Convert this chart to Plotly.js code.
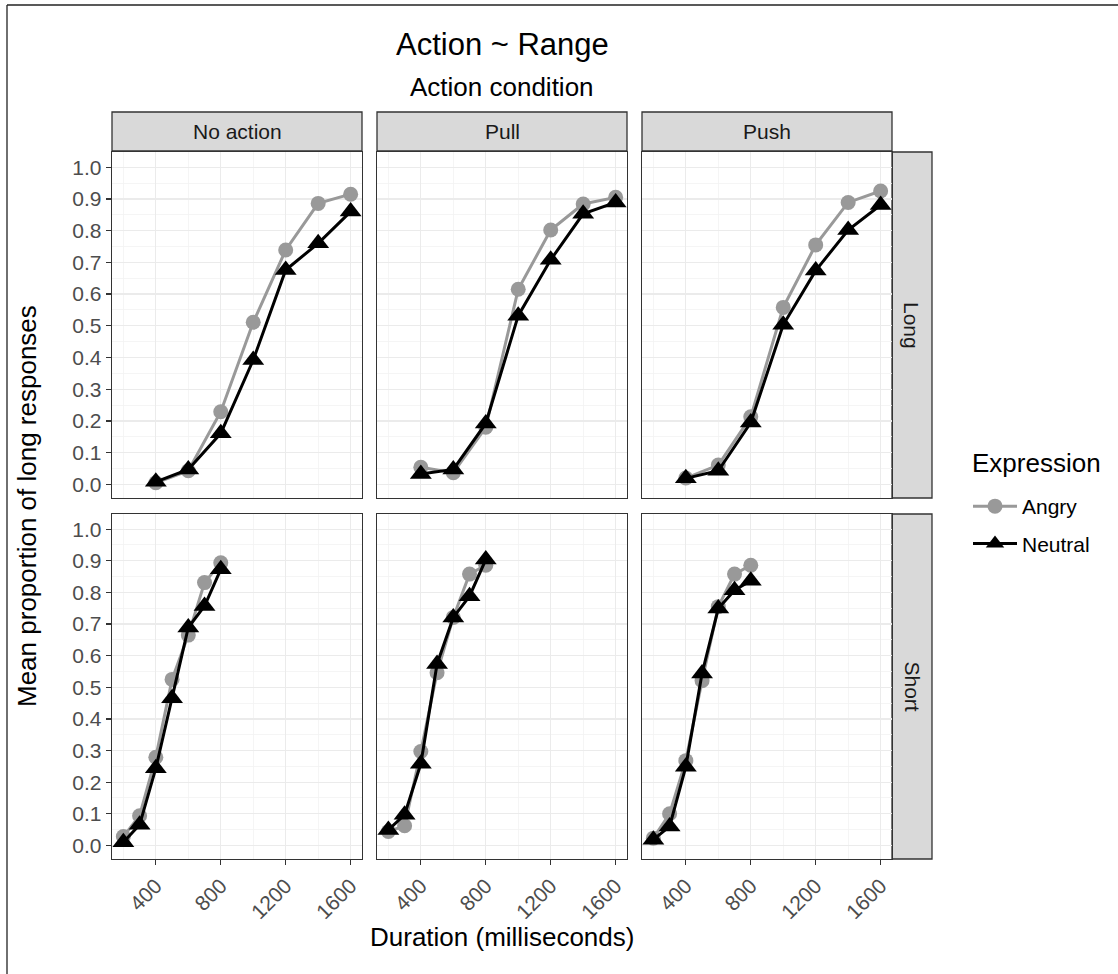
<!DOCTYPE html>
<html>
<head>
<meta charset="utf-8">
<script src="https://cdn.plot.ly/plotly-3.0.1.min.js"></script>
<style>html,body{margin:0;padding:0;background:#fff;}#chart{width:1118px;height:974px;}</style>
</head>
<body>
<div id="chart"></div>
<script>
// ---- data ----
var actions = ["No action", "Pull", "Push"];
var ranges = ["Long", "Short"];
var durationsLong = [400, 600, 800, 1000, 1200, 1400, 1600];
var durationsShort = [200, 300, 400, 500, 600, 700, 800];
var xTickVals = [400, 800, 1200, 1600];
var yTickVals = [0, 0.1, 0.2, 0.3, 0.4, 0.5, 0.6, 0.7, 0.8, 0.9, 1.0];
var yTickText = ["0.0", "0.1", "0.2", "0.3", "0.4", "0.5", "0.6", "0.7", "0.8", "0.9", "1.0"];

var angryLongNoAction   = [0.005, 0.043, 0.229, 0.511, 0.739, 0.886, 0.915];
var neutralLongNoAction = [0.008, 0.047, 0.161, 0.392, 0.676, 0.760, 0.860];
var angryLongPull       = [0.054, 0.037, 0.180, 0.615, 0.802, 0.884, 0.905];
var neutralLongPull     = [0.033, 0.047, 0.192, 0.532, 0.708, 0.853, 0.889];
var angryLongPush       = [0.020, 0.061, 0.213, 0.558, 0.755, 0.889, 0.925];
var neutralLongPush     = [0.019, 0.043, 0.195, 0.503, 0.674, 0.802, 0.881];

var angryShortNoAction   = [0.028, 0.094, 0.279, 0.525, 0.665, 0.831, 0.894];
var neutralShortNoAction = [0.010, 0.065, 0.244, 0.465, 0.689, 0.757, 0.873];
var angryShortPull       = [0.044, 0.062, 0.297, 0.546, 0.721, 0.858, 0.886];
var neutralShortPull     = [0.049, 0.097, 0.258, 0.574, 0.721, 0.788, 0.904];
var angryShortPush       = [0.023, 0.100, 0.268, 0.521, 0.755, 0.858, 0.886];
var neutralShortPush     = [0.018, 0.060, 0.249, 0.544, 0.749, 0.807, 0.837];

var panels = [
  {x: durationsLong,  a: angryLongNoAction,  n: neutralLongNoAction},
  {x: durationsLong,  a: angryLongPull,      n: neutralLongPull},
  {x: durationsLong,  a: angryLongPush,      n: neutralLongPush},
  {x: durationsShort, a: angryShortNoAction, n: neutralShortNoAction},
  {x: durationsShort, a: angryShortPull,     n: neutralShortPull},
  {x: durationsShort, a: angryShortPush,     n: neutralShortPush}
];

// ---- geometry (pixels) ----
var W = 1118, H = 974;
var colX = [[112, 362], [377, 627], [642, 892]];
var rowY = [[152, 498], [514, 859]];
function px(x) { return x / W; }
function py(y) { return 1 - y / H; }

var traces = [];
var layout = {
  width: W, height: H,
  margin: {l: 0, r: 0, t: 0, b: 0},
  paper_bgcolor: "#ffffff",
  plot_bgcolor: "#ffffff",
  font: {family: "Liberation Sans, Arial, sans-serif", color: "#1a1a1a"},
  showlegend: true,
  legend: {
    x: px(968), xanchor: "left",
    y: py(486), yanchor: "top",
    font: {size: 21, color: "#000000"},
    bgcolor: "rgba(0,0,0,0)",
    tracegroupgap: 7,
    itemwidth: 44
  },
  shapes: [],
  annotations: []
};

for (var i = 0; i < 6; i++) {
  var r = Math.floor(i / 3), c = i % 3;
  var ax = i === 0 ? "" : String(i + 1);
  var p = panels[i];
  traces.push({
    type: "scatter", mode: "lines+markers",
    x: p.x, y: p.a, xaxis: "x" + ax, yaxis: "y" + ax,
    name: "Angry", legendgroup: "Angry", showlegend: i === 0,
    line: {color: "#999999", width: 3},
    marker: {symbol: "circle", size: 15, color: "#999999"}
  });
  traces.push({
    type: "scatter", mode: "lines+markers",
    x: p.x, y: p.n, xaxis: "x" + ax, yaxis: "y" + ax,
    name: "Neutral", legendgroup: "Neutral", showlegend: i === 0,
    line: {color: "#000000", width: 3},
    marker: {symbol: "triangle-up", size: 19, color: "#000000"}
  });
  var bottom = r === 1, left = c === 0;
  layout["xaxis" + ax] = {
    domain: [px(colX[c][0]), px(colX[c][1])],
    anchor: "y" + ax,
    range: [130, 1670],
    tickmode: "array", tickvals: xTickVals,
    showticklabels: bottom,
    ticks: bottom ? "outside" : "",
    ticklen: 5, tickwidth: 1.3, tickcolor: "#333333",
    tickangle: -45,
    tickfont: {size: 21, color: "#4d4d4d"},
    showline: true, mirror: true, linecolor: "#333333", linewidth: 1.3,
    showgrid: true, gridcolor: "#ebebeb", gridwidth: 1.3,
    minor: {tickmode: "array", tickvals: [200, 600, 1000, 1400], showgrid: true, gridcolor: "#f2f2f2", gridwidth: 0.8, ticks: ""},
    zeroline: false, fixedrange: true
  };
  layout["yaxis" + ax] = {
    domain: [py(rowY[r][1]), py(rowY[r][0])],
    anchor: "x" + ax,
    range: [-0.043, 1.048],
    tickmode: "array", tickvals: yTickVals, ticktext: yTickText,
    showticklabels: left,
    ticks: left ? "outside" : "",
    ticklen: 5, tickwidth: 1.3, tickcolor: "#333333",
    tickfont: {size: 21, color: "#4d4d4d"},
    showline: true, mirror: true, linecolor: "#333333", linewidth: 1.3,
    showgrid: true, gridcolor: "#ebebeb", gridwidth: 1.3,
    minor: {tickmode: "array", tickvals: [0.05, 0.15, 0.25, 0.35, 0.45, 0.55, 0.65, 0.75, 0.85, 0.95], showgrid: true, gridcolor: "#f2f2f2", gridwidth: 0.8, ticks: ""},
    zeroline: false, fixedrange: true
  };
}

// top strips
for (var c2 = 0; c2 < 3; c2++) {
  layout.shapes.push({
    type: "rect", xref: "paper", yref: "paper",
    x0: px(colX[c2][0]), x1: px(colX[c2][1]), y0: py(151), y1: py(112),
    fillcolor: "#d9d9d9", line: {color: "#333333", width: 1.3}, layer: "below"
  });
  layout.annotations.push({
    xref: "paper", yref: "paper", x: px((colX[c2][0] + colX[c2][1]) / 2), y: py(131.5),
    text: actions[c2], showarrow: false, xanchor: "center", yanchor: "middle",
    font: {size: 21, color: "#1a1a1a"}
  });
}
// right strips
for (var r2 = 0; r2 < 2; r2++) {
  layout.shapes.push({
    type: "rect", xref: "paper", yref: "paper",
    x0: px(892), x1: px(932), y0: py(rowY[r2][1]), y1: py(rowY[r2][0]),
    fillcolor: "#d9d9d9", line: {color: "#333333", width: 1.3}, layer: "below"
  });
  layout.annotations.push({
    xref: "paper", yref: "paper", x: px(912), y: py((rowY[r2][0] + rowY[r2][1]) / 2),
    text: ranges[r2], showarrow: false, textangle: 90, xanchor: "center", yanchor: "middle",
    font: {size: 21, color: "#1a1a1a"}
  });
}
// partial outer frame (top and left)
layout.shapes.push({type: "line", xref: "paper", yref: "paper", x0: px(7), x1: px(1118), y0: py(5), y1: py(5), line: {color: "#222222", width: 1.3}});
layout.shapes.push({type: "line", xref: "paper", yref: "paper", x0: px(7), x1: px(7), y0: py(5), y1: py(974), line: {color: "#222222", width: 1.3}});

// titles
layout.annotations.push({xref: "paper", yref: "paper", x: px(502), y: py(45), text: "Action ~ Range", showarrow: false, xanchor: "center", yanchor: "middle", font: {size: 31, color: "#000000"}});
layout.annotations.push({xref: "paper", yref: "paper", x: px(502), y: py(87), text: "Action condition", showarrow: false, xanchor: "center", yanchor: "middle", font: {size: 26, color: "#000000"}});
layout.annotations.push({xref: "paper", yref: "paper", x: px(502), y: py(937), text: "Duration (milliseconds)", showarrow: false, xanchor: "center", yanchor: "middle", font: {size: 26, color: "#000000"}});
layout.annotations.push({xref: "paper", yref: "paper", x: px(27), y: py(506), text: "Mean proportion of long responses", showarrow: false, textangle: -90, xanchor: "center", yanchor: "middle", font: {size: 26, color: "#000000"}});
layout.annotations.push({xref: "paper", yref: "paper", x: px(970), y: py(463), text: "Expression", showarrow: false, xanchor: "left", yanchor: "middle", font: {size: 26, color: "#000000"}});

Plotly.newPlot("chart", traces, layout, {displayModeBar: false, staticPlot: true});
</script>
</body>
</html>
